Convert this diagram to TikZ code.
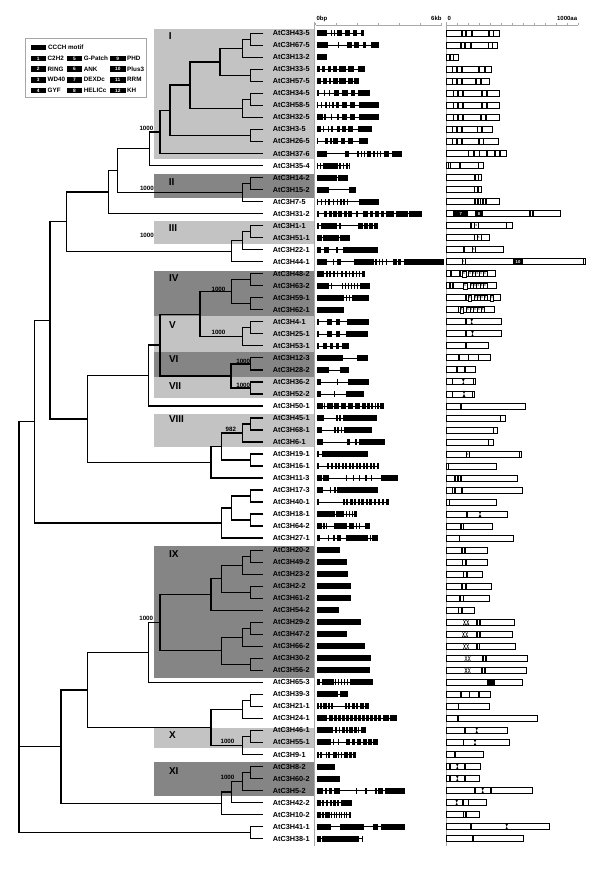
\documentclass[tikz,border=0pt]{standalone}
\usepackage{fontspec}
\setmainfont{Liberation Sans}
\usetikzlibrary{calc}
\definecolor{cladelight}{HTML}{C3C3C3}
\definecolor{cladedark}{HTML}{858585}
\definecolor{divgray}{HTML}{A8A8A8}
\newcommand\mkclade[4]{\path let \p1=(#3), \p2=(#4) in coordinate (#1) at (#2,{0.5*(\y1+\y2)});\draw[tree] (#3) -| (#1) |- (#4);}
\newcommand\mkgene[3]{\pgfmathsetmacro\gy{33.3+(#1-1)*12.02}\draw[intron] (316.5,\gy) -- ({316.5+#2},\gy);\foreach \s/\e in {#3}{\fill ({316.5+\s},{\gy-3}) rectangle ({316.5+\e},{\gy+3});}}
\newcommand\mkprot[3]{\pgfmathsetmacro\py{33.3+(#1-1)*12.02}\draw[pbox] (446.7,{\py-3}) rectangle (#2,{\py+3});\foreach \b in {#3}{\fill ({\b-0.8},{\py-3}) rectangle ({\b+0.8},{\py+3});}}
\newcommand\pdom[4]{\pgfmathsetmacro\py{33.3+(#1-1)*12.02}\fill (#2,{\py-3}) rectangle (#3,{\py+3});\node[domnum] (pd#1x#4) at ({(#2+#3)/2},\py) {#4};}
\newcommand\psmall[4]{\pgfmathsetmacro\py{33.3+(#1-1)*12.02}\draw[sbox] (#2,{\py-3}) rectangle (#3,{\py+3});\node[smallnum] (ps#1x#4) at ({(#2+#3)/2},\py) {#4};}
\newcommand\phg[2]{\pgfmathsetmacro\py{33.3+(#1-1)*12.02}\fill ({#2-1.4},{\py-3}) -- ({#2+1.4},{\py-3}) -- ({#2-1.4},{\py+3}) -- ({#2+1.4},{\py+3}) -- cycle;}
\newcommand\pzz[2]{\pgfmathsetmacro\py{33.3+(#1-1)*12.02}\foreach \c in {#2,#2+3.2}{\draw[line width=0.35pt] ({\c-1.3},{\py-2.6}) -- ({\c+1.3},{\py-2.6}) -- ({\c-1.3},{\py+2.6}) -- ({\c+1.3},{\py+2.6}) -- cycle;}}
\newcommand\pank[4]{\pgfmathsetmacro\py{33.3+(#1-1)*12.02}\pgfmathsetmacro\ankw{(#3-#2)/#4}\foreach \k in {1,...,#4}{\draw[sbox] ({#2+(\k-1)*\ankw},{\py-2.6}) rectangle ({#2+\k*\ankw},{\py+2.6});\node[smallnum] at ({#2+(\k-0.5)*\ankw},\py) {6};}}
\begin{document}
\begin{tikzpicture}[x=1pt,y=-1pt,
  tree/.style={line width=1.3pt},
  intron/.style={line width=0.6pt},
  pbox/.style={draw=black,fill=white,line width=0.8pt},
  sbox/.style={draw=black,fill=white,line width=0.4pt},
  leaflab/.style={anchor=west,inner sep=0pt,font=\bfseries\fontsize{7.3}{8}\selectfont},
  cladelab/.style={anchor=west,inner sep=0pt,font=\bfseries\fontsize{10}{11}\selectfont},
  boot/.style={inner sep=0pt,font=\bfseries\fontsize{6.2}{7}\selectfont},
  axlab/.style={inner sep=0pt,font=\bfseries\fontsize{6}{7}\selectfont},
  legtext/.style={anchor=west,inner sep=0pt,font=\bfseries\fontsize{6.3}{7}\selectfont},
  legnum/.style={inner sep=0pt,text=white,font=\bfseries\fontsize{4.8}{5}\selectfont},
  domnum/.style={inner sep=0pt,text=white,font=\bfseries\fontsize{4.2}{5}\selectfont},
  smallnum/.style={inner sep=0pt,font=\fontsize{3}{3}\selectfont}]
\useasboundingbox (0,0) rectangle (600,879);
\fill[white] (0,0) rectangle (600,879);
% clade shading
\fill[cladelight] (154,29) rectangle (314.3,159.3);
\fill[cladedark] (154,174) rectangle (314.3,197.7);
\fill[cladelight] (154,221) rectangle (314.3,244.3);
\fill[cladedark] (154,270.5) rectangle (314.3,315.7);
\fill[cladelight] (154,315.7) rectangle (314.3,351.7);
\fill[cladedark] (154,351.7) rectangle (314.3,376.7);
\fill[cladelight] (154,376.7) rectangle (314.3,398.3);
\fill[cladelight] (154,414.3) rectangle (314.3,446.7);
\fill[cladedark] (154,546) rectangle (314.3,677.7);
\fill[cladelight] (154,727.7) rectangle (314.3,747.7);
\fill[cladedark] (154,761.7) rectangle (314.3,795.7);
\node[cladelab] (cI) at (168.6,36) {I};
\node[cladelab] (cII) at (168.6,182.3) {II};
\node[cladelab] (cIII) at (168.6,228.3) {III};
\node[cladelab] (cIV) at (168.8,278.3) {IV};
\node[cladelab] (cV) at (168.8,325) {V};
\node[cladelab] (cVI) at (168.8,359.3) {VI};
\node[cladelab] (cVII) at (168.8,386) {VII};
\node[cladelab] (cVIII) at (168.8,419.3) {VIII};
\node[cladelab] (cIX) at (168.8,554) {IX};
\node[cladelab] (cX) at (168.8,735) {X};
\node[cladelab] (cXI) at (168.8,770.7) {XI};
% dividers and axes
\draw[divgray,line width=0.8pt] (314.3,22) -- (314.3,846);
\draw[divgray,line width=0.8pt] (446,22) -- (446,846);
\draw[divgray,line width=0.6pt] (315.7,25) -- (441.7,25);
\foreach \k in {0,...,6}{\draw[divgray,line width=0.5pt] ({315.7+\k*20.99},25) -- ({315.7+\k*20.99},23.2);}
\draw[divgray,line width=0.6pt] (446.7,25) -- (578.1,25);
\foreach \k in {0,...,12}{\draw[divgray,line width=0.5pt] ({446.7+\k*10.95},25) -- ({446.7+\k*10.95},23.2);}
\node[axlab,anchor=west] (ax0) at (316.3,18.5) {0bp};
\node[axlab,anchor=east] (ax6) at (441.7,18.5) {6kb};
\node[axlab,anchor=west] (axp0) at (447.3,18.5) {0};
\node[axlab,anchor=east] (axp1) at (577.3,18.5) {1000aa};
% legend
\draw[gray!70,line width=0.6pt] (25.5,38.3) rectangle (146,97);
\fill (30.5,44.5) rectangle (45.7,50);
\node[legtext] (lgc) at (48,47.2) {CCCH motif};
\foreach \n/\t/\c/\r in {1/C2H2/0/0,2/RING/0/1,3/WD40/0/2,4/GYF/0/3,5/G-Patch/1/0,6/ANK/1/1,7/DEXDc/1/2,8/HELICc/1/3,9/PHD/2/0,10/Plus3/2/1,11/RRM/2/2,12/KH/2/3}{
  \pgfmathsetmacro\bx{\c==0 ? 30.5 : (\c==1 ? 66.7 : 110)}
  \pgfmathsetmacro\ly{58.4+\r*10.7}
  \fill (\bx,{\ly-2.7}) rectangle ({\bx+15.5},{\ly+2.7});
  \node[legnum] (lgn\n) at ({\bx+7.75},\ly) {\n};
  \node[legtext] (lgt\n) at ({\bx+17},\ly) {\t};
}
% leaves
\foreach \nm [count=\i] in {43-5,67-5,13-2,33-5,57-5,34-5,58-5,32-5,3-5,26-5,37-6,35-4,14-2,15-2,7-5,31-2,1-1,51-1,22-1,44-1,48-2,63-2,59-1,62-1,4-1,25-1,53-1,12-3,28-2,36-2,52-2,50-1,45-1,68-1,6-1,19-1,16-1,11-3,17-3,40-1,18-1,64-2,27-1,20-2,49-2,23-2,2-2,61-2,54-2,29-2,47-2,66-2,30-2,56-2,65-3,39-3,21-1,24-1,46-1,55-1,9-1,8-2,60-2,5-2,42-2,10-2,41-1,38-1}{
  \pgfmathsetmacro\yy{33.3+(\i-1)*12.02}
  \coordinate (l\i) at (263.3,\yy);
  \node[leaflab] (t\i) at (272.6,\yy) {AtC3H\nm};
}
% tree
\mkclade{A}{250.7}{l1}{l2}
\mkclade{B}{242.3}{A}{l3}
\mkclade{C}{250.7}{l4}{l5}
\mkclade{E}{220}{B}{C}
\mkclade{Fa}{250.7}{l6}{l7}
\mkclade{F}{242.3}{Fa}{l8}
\mkclade{G}{190}{E}{F}
\mkclade{Ha}{250.7}{l9}{l10}
\mkclade{H}{170}{G}{Ha}
\mkclade{I}{160}{H}{l11}
\mkclade{J}{149.3}{I}{l12}
\mkclade{Ka}{250.7}{l13}{l14}
\mkclade{K}{242.3}{Ka}{l15}
\mkclade{L}{117.3}{J}{K}
\mkclade{M}{108.3}{L}{l16}
\mkclade{Na}{250.7}{l17}{l18}
\mkclade{Nb}{242.3}{Na}{l19}
\mkclade{Nc}{231.7}{Nb}{l20}
\mkclade{N}{66.7}{M}{Nc}
\mkclade{Da}{250.7}{l21}{l22}
\mkclade{Db}{250.7}{l23}{l24}
\mkclade{Dc}{231.7}{Da}{Db}
\mkclade{Va}{250.7}{l25}{l26}
\mkclade{Vb}{242.3}{Va}{l27}
\mkclade{U}{200}{Dc}{Vb}
\mkclade{Wa}{250.7}{l28}{l29}
\mkclade{Wb}{250.7}{l30}{l31}
\mkclade{Wc}{231}{Wa}{Wb}
\mkclade{T}{160}{U}{Wc}
\mkclade{S}{148.3}{T}{l32}
\mkclade{Xa}{250.7}{l33}{l34}
\mkclade{Xb}{242.3}{Xa}{l35}
\mkclade{Xc}{250.7}{l36}{l37}
\mkclade{Xd}{221.7}{Xb}{Xc}
\mkclade{W}{211}{Xd}{l38}
\mkclade{Oa}{87.3}{S}{W}
\mkclade{O}{50}{N}{Oa}
\mkclade{Qa}{250.7}{l39}{l40}
\mkclade{Qb}{250.7}{l41}{l42}
\mkclade{Qc}{231.7}{Qa}{Qb}
\mkclade{Q}{221.7}{Qc}{l43}
\mkclade{P}{34.3}{O}{Q}
\mkclade{Ya}{250.7}{l44}{l45}
\mkclade{Yb}{242.3}{Ya}{l46}
\mkclade{Yc}{250.7}{l47}{l48}
\mkclade{Yd}{221.7}{Yb}{Yc}
\mkclade{Ye}{211}{Yd}{l49}
\mkclade{Yf}{250.7}{l50}{l51}
\mkclade{Yg}{242.3}{Yf}{l52}
\mkclade{Yh}{250.7}{l53}{l54}
\mkclade{Yi}{221.7}{Yg}{Yh}
\mkclade{Yj}{160}{Ye}{Yi}
\mkclade{Z}{148.3}{Yj}{l55}
\mkclade{Za}{250.7}{l56}{l57}
\mkclade{Zb}{242.3}{Za}{l58}
\mkclade{Zc}{250.7}{l59}{l60}
\mkclade{Zd}{242.3}{Zc}{l61}
\mkclade{Ze}{211}{Zb}{Zd}
\mkclade{Ra}{87.3}{Z}{Ze}
\mkclade{Rb}{250.7}{l62}{l63}
\mkclade{Rc}{242.3}{Rb}{l64}
\mkclade{Rd}{231.7}{Rc}{l65}
\mkclade{Re}{221.7}{Rd}{l66}
\mkclade{R}{61}{Ra}{Re}
\mkclade{Sa}{250.7}{l67}{l68}
\mkclade{root}{19}{P}{Sa}
\draw[tree] (root) |- (R);
% bootstrap values
\node[boot,anchor=east] (b1) at (153.5,128.3) {1000};
\node[boot,anchor=east] (b2) at (154,188.3) {1000};
\node[boot,anchor=east] (b3) at (154,235) {1000};
\node[boot] (b4) at (218.5,289.3) {1000};
\node[boot] (b5) at (218.5,332) {1000};
\node[boot] (b6) at (243.2,361) {1000};
\node[boot] (b7) at (243.2,385) {1000};
\node[boot] (b8) at (230.8,429) {982};
\node[boot,anchor=east] (b9) at (153.3,618.3) {1000};
\node[boot] (b10) at (227.5,741.5) {1000};
\node[boot] (b11) at (227.5,777) {1000};
% gene structures
\mkgene{1}{47}{0/10,14/15.5,17/18.5,20/25.5,28/33,36/40.5,44/47}
\mkgene{2}{62}{0/11,21/22.5,30.3/35.3,37.7/42,46/49.3,54.3/62}
\mkgene{3}{10}{0/10}
\mkgene{4}{48}{0/3.3,5.3/8.7,11/14.3,16.7/20,22.7/29.3,31.7/37.7,41/48}
\mkgene{5}{42}{0/4.3,6/10,12/14.3,16/21,22.7/29.3,31/36,37.7/42}
\mkgene{6}{53}{0/2,7/8.3,12.5/13.8,17/22.5,25/31,34/38,41/53}
\mkgene{7}{62}{0/1.5,4/5.5,8.5/10,12/13.5,15.5/17,19/22,25/30,33/38.5,42/62}
\mkgene{8}{62}{0/6,7/9,14.5/15.7,20/22,25/30,33/38.5,42/62}
\mkgene{9}{55}{0/4,6/7.5,11/12,14/16,20/23,25.3/29.3,31.7/36,41/55}
\mkgene{10}{51}{0/1,8/11,13/15,16.5/21,24.7/28,31.7/36,42/51}
\mkgene{11}{85.7}{0/10,28/32.3,40.5/42,44/45.5,47.3/48.8,50.7/54,56.5/58,60/61.5,63.3/64.8,67.3/72.3,75.7/85.7}
\mkgene{12}{33.7}{0/1.5,3/4.5,6/21,22.5/24,26/27.5,29.5/31,32.5/33.7}
\mkgene{13}{31}{0/20,21.5/31}
\mkgene{14}{39.3}{0/12,32/39.3}
\mkgene{15}{62.7}{0/1.7,4/5.7,8/9.7,11.3/13,16/17,20/21.7,23.3/25,26.7/28.3,30/31,42.3/62.7}
\mkgene{16}{105.7}{0/2,7/10.3,12.3/15.3,16.7/20,21.7/25,27/30,31.7/35,39.3/41,46/51,53/56.3,58/62,64/67.3,69.3/77,79/91,92/105.7}
\mkgene{17}{61.3}{0/2.3,4/20.7,22.7/24.7,41.3/46,47.3/51,52.3/56,57.3/61.3}
\mkgene{18}{33}{0/5.3,6.7/22,23.3/33}
\mkgene{19}{61}{0/4.3,7.7/12.7,19.3/21,26/61}
\mkgene{20}{127.3}{0/10,16/17.5,20.7/24,37.3/57.3,58.5/60,62/63.3,65/66.5,69.3/70.7,76.7/80,81.3/84.7,87.3/127.3}
\mkgene{21}{48}{0/7.5,9/11,12.5/14,16/18,20/21.5,24/26,28/30,32/33.5,35/37,39/40.5,42/43.5,45.5/48}
\mkgene{22}{53}{0/12.7,14/15.3,25/26.3,28/29.5,31/32.5,34/35.5,37/38.5,40/41.5,43/53}
\mkgene{23}{52.3}{0/27.3,29/30.3,32/33.3,35/52.3}
\mkgene{24}{27.3}{0/27.3}
\mkgene{25}{52.3}{0/2,10/15.3,19/23,30/52.3}
\mkgene{26}{51.3}{0/2.3,10/15,19.3/23.3,29.3/51.3}
\mkgene{27}{32.3}{0/2,6/10,13/16.3,19/22,25/32.3}
\mkgene{28}{51.3}{0/26.3,40/51.3}
\mkgene{29}{32.3}{0/12.7,23/32.3}
\mkgene{30}{52.3}{0/4.7,20/21.3,31/52.3}
\mkgene{31}{47.3}{0/4.7,17/18.3,29/47.3}
\mkgene{32}{67.3}{0/6,7.3/8.7,10.7/16,17.3/22.7,24/29.3,31/36.7,38/43.3,45/49,50.3/53,54.5/56,58/59.3,60.7/62,63.3/67.3}
\mkgene{33}{60}{0/7.3,19.3/21.3,22.7/24.7,26/60}
\mkgene{34}{55.3}{0/5,17/19,20.5/22.5,24/25.5,27/55.3}
\mkgene{35}{68.3}{0/6.7,30/33,38/40,42/68.3}
\mkgene{36}{51.3}{0/2.7,5/51.3}
\mkgene{37}{62.3}{0/2,10/12.7,14/16,18/20,21.3/23.3,25/27,28.3/30,32/34,35.3/37,39/41,42.3/44,46/48,49.3/51,53/55,56.3/58.3,60/62.3}
\mkgene{38}{81.3}{0/5.7,6.7/12,29/30.7,36/37.7,42/43.7,48.7/50.3,54.3/55.7,64/81.3}
\mkgene{39}{61.3}{0/6.7,13/14.7,17/19,20/61.3}
\mkgene{40}{72.3}{0/2,26/28,29.5/31.5,33/36,37.5/39.5,41/43,44.5/47.5,49/51,52.5/55.5,57/59,61/63,65/67,69/72.3}
\mkgene{41}{40}{0/18,19.3/27,29/30.5,32/33.5,35/36.5,37.7/40}
\mkgene{42}{53.3}{0/5.7,6.7/8,9/10.7,17.3/30.7,32.3/37.3,39/40.5,42/43.5,48/53.3}
\mkgene{43}{61.3}{0/3,11/12.3,16.5/18,20/24,29/51,53/54.3,55.5/61.3}
\mkgene{44}{23.3}{0/23.3}
\mkgene{45}{30.7}{0/30.7}
\mkgene{46}{31.3}{0/31.3}
\mkgene{47}{34}{0/34}
\mkgene{48}{34}{0/34}
\mkgene{49}{22.7}{0/22.7}
\mkgene{50}{44.7}{0/44.7}
\mkgene{51}{30.7}{0/30.7}
\mkgene{52}{48.3}{0/48.3}
\mkgene{53}{54.7}{0/54.7}
\mkgene{54}{53}{0/53}
\mkgene{55}{56}{0/3,5/17,18.5/19.7,21/22,24/25,27/28,30/31,33/56}
\mkgene{56}{31.3}{0/21.3,23.3/31.3}
\mkgene{57}{52.3}{0/2,3.3/5,6.5/10,11.5/13,14.5/16.5,28/30,31.5/33,35/38,39.5/41,43/47,48.5/52.3}
\mkgene{58}{80.7}{0/10.7,12/16,17.5/20,21.5/24,25.5/28,29.5/32,33.5/36,37.5/40,41.5/44,45.5/48,49.5/52,53.5/56,57.5/60,61.5/64.5,66/72,73.3/80.7}
\mkgene{59}{49.3}{0/16.7,18/20.5,22/23.5,25/28,29.5/31,32.5/36,37.5/40,41.5/42.7,44/49.3}
\mkgene{60}{61.3}{0/14.5,16/17.2,21.5/22.7,29/33,35/38.5,40.5/44,46/50,51.5/55,56.5/61.3}
\mkgene{61}{39.3}{0/2,3.5/5,9/10.3,11.5/13,16/20,21.3/22.7,24/25.5,27/31,32.3/35,36.3/39.3}
\mkgene{62}{18.3}{0/18.3}
\mkgene{63}{23.3}{0/23.3}
\mkgene{64}{88.3}{0/6.3,8/10.7,12.3/15.7,17.3/23.3,39.7/40.7,48.7/50.3,58.3/60,61.7/66.3,68.3/88.3}
\mkgene{65}{35.7}{0/4.3,5.7/7.7,9.3/11.3,13/15,16.7/19,20.5/22.5,24/35.7}
\mkgene{66}{34}{0/4,5/7,8/13,14.5/15.5,17/18,19.5/20.5,22/23,24.5/25.5,27/28,29.5/30.5,32/34}
\mkgene{67}{88.3}{0/14.3,23.3/47,56/61.3,64.3/88.3}
\mkgene{68}{46.7}{0/4.3,5.7/42.7,45.7/46.7}
% protein structures
\mkprot{1}{499.3}{461.7,466,472,489,493.5}
\mkprot{2}{497.3}{461,465,471,488.3,492.3}
\mkprot{3}{458.3}{450,453.5}
\mkprot{4}{491.7}{452.3,456.7,461.7,479,485}
\mkprot{5}{489.3}{452.3,456.7,461.7,476,480.7}
\mkprot{6}{499}{453.3,457.7,462.7,481.7,486.7}
\mkprot{7}{499.7}{453.3,457.7,462.7,481.7,486.7}
\mkprot{8}{499.7}{453.3,457.7,462.7,481,485.7}
\mkprot{9}{492.3}{452.3,456.7,461.7,477.3,481.7}
\mkprot{10}{498.3}{452.3,456.7,461.7,479,483.3}
\mkprot{11}{506.7}{468.3,474,479.3,486.7,495,500}
\mkprot{12}{483.3}{448.3,450.3,460,478.3}
\mkprot{13}{481.7}{475,478.3}
\mkprot{14}{481.7}{474.3,477.7}
\mkprot{15}{499.3}{475,477.7,480.3,483,486}
\mkprot{16}{560.7}{530,532.7}
\pdom{16}{453.3}{468.3}{7}
\pdom{16}{475}{483.3}{8}
\mkprot{17}{512.7}{470.7,506.5}
\psmall{17}{474.5}{478.5}{5}
\mkprot{18}{489}{474.3}
\psmall{18}{476.7}{480.7}{5}
\mkprot{19}{503.3}{464}
\psmall{19}{471.7}{475.5}{5}
\mkprot{20}{585}{583.3}
\psmall{20}{461.7}{465}{2}
\pdom{20}{512.7}{523.3}{10}
\mkprot{21}{495}{451,460}
\psmall{21}{462}{466}{6}
\pank{21}{468.3}{486.7}{5}
\mkprot{22}{496}{450,453}
\psmall{22}{463}{467}{6}
\pank{22}{470}{486.7}{5}
\mkprot{23}{500}{466}
\psmall{23}{468}{471.5}{6}
\pank{23}{474}{487}{4}
\psmall{23}{490.5}{493.5}{6}
\mkprot{24}{494}{458.3}
\psmall{24}{460}{463.5}{6}
\pank{24}{466}{484.5}{5}
\mkprot{25}{501}{466}
\phg{25}{471.7}
\mkprot{26}{501}{466}
\phg{26}{472.5}
\mkprot{27}{488.3}{466}
\mkprot{28}{490}{459,468.3,478.3}
\mkprot{29}{475}{456.7,465}
\mkprot{30}{475}{452.3,473.3}
\phg{30}{463.3}
\mkprot{31}{474}{452.3,472.3}
\phg{31}{464}
\mkprot{32}{525.7}{460.7}
\mkprot{33}{505.7}{500.5}
\mkprot{34}{497.7}{493.3}
\mkprot{35}{493.3}{488.3}
\mkprot{36}{521}{519.3}
\psmall{36}{466}{469.3}{2}
\mkprot{37}{496}{448.3}
\mkprot{38}{517.7}{455,457.7,460.7}
\mkprot{39}{522.3}{452.3,455,461.7}
\mkprot{40}{496}{449.3}
\mkprot{41}{507.7}{466.7}
\phg{41}{480}
\mkprot{42}{492.3}{460.7,463.3}
\mkprot{43}{513.3}{459.3}
\mkprot{44}{487.7}{461.7,465}
\mkprot{45}{487.7}{462.3,465.7}
\mkprot{46}{482.3}{463.3,466.7}
\mkprot{47}{491}{461.7,465.7}
\mkprot{48}{489.3}{460,463.3}
\mkprot{49}{474.3}{458.3,461.7}
\mkprot{50}{514}{476.7,480}
\pzz{50}{464.5}
\mkprot{51}{512.7}{476.7,480}
\pzz{51}{463.5}
\mkprot{52}{515.7}{476.7,479.3}
\pzz{52}{464.5}
\mkprot{53}{527.7}{482.7,486}
\pzz{53}{466}
\mkprot{54}{526}{481.7,485}
\pzz{54}{466}
\mkprot{55}{522.7}{487.7,489.7,491.7,493.7}
\mkprot{56}{490}{460.7,469.3,479}
\mkprot{57}{489}{458.3}
\mkprot{58}{537.7}{457.7}
\mkprot{59}{507.7}{465}
\phg{59}{476.7}
\mkprot{60}{509}{463.3}
\phg{60}{475}
\mkprot{61}{483.3}{455}
\mkprot{62}{480}{450,465}
\phg{62}{457.3}
\mkprot{63}{479}{450,465}
\phg{63}{457.3}
\mkprot{64}{532.3}{475,490.7}
\phg{64}{482.7}
\mkprot{65}{486.7}{462.7,468.3}
\phg{65}{456.7}
\mkprot{66}{479.3}{463.3,466}
\mkprot{67}{549.3}{471}
\phg{67}{506.7}
\mkprot{68}{523.3}{472.7}
\end{tikzpicture}
\end{document}
